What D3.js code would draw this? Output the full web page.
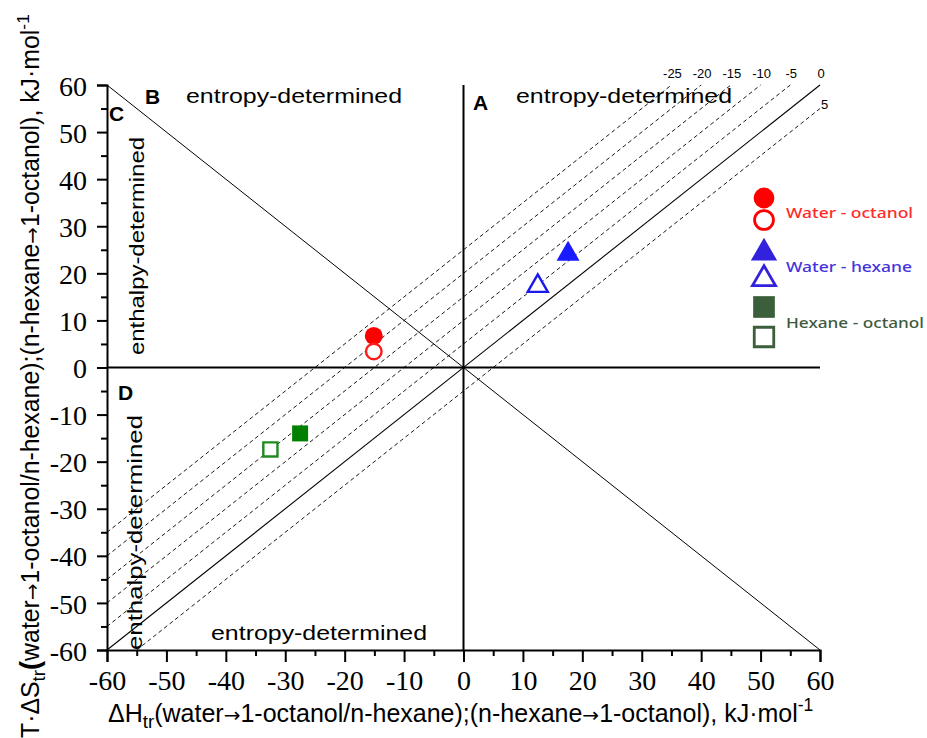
<!DOCTYPE html>
<html><head><meta charset="utf-8">
<script src="https://cdn.jsdelivr.net/npm/d3@7"></script>
<style>body{margin:0;background:#fff} svg{display:block}</style>
</head><body><svg id="c" width="927" height="738"></svg>
<script>
// ---- data ----
const seriesNames = ["Water - octanol", "Water - hexane", "Hexane - octanol"];
const filledDH  = [-15.1, 17.6, -27.5];
const filledTDS = [6.7, 24.1, -14.0];
const openDH    = [-15.1, 12.5, -32.5];
const openTDS   = [3.4, 17.3, -17.4];
const isoDG = [-25, -20, -15, -10, -5, 0, 5];
const majorTicks = [-60, -50, -40, -30, -20, -10, 0, 10, 20, 30, 40, 50, 60];
const minorTicks = [-55, -45, -35, -25, -15, -5, 5, 15, 25, 35, 45, 55];
const regionText = "entropy-determined";
const regionText2 = "enthalpy-determined";
const titleParts = ["(water", "→", "1-octanol/n-hexane);(n-hexane", "→", "1-octanol), kJ·mol"];

// ---- styles ----
const SERIF = '"Liberation Serif"';
const SANS = '"Liberation Sans"';
const plotFill = ["#ff0000", "#1a1aff", "#008000"];
const plotStroke = ["#ff1a1a", "#1a1aee", "#1f8a1f"];
const legFill = ["#ff0000", "#3322dd", "#3b5e3b"];
const legText = ["#ff2a2a", "#4433dd", "#3e5a3e"];
const shapes = [d3.symbolCircle, d3.symbolTriangle, d3.symbolSquare];

const svg = d3.select("#c");
const x = d3.scaleLinear().domain([-60, 60]).range([107, 820]);
const y = d3.scaleLinear().domain([-60, 60]).range([650, 85]);

// ---- guide lines ----
const g = svg.append("g");
g.append("line").attr("x1", x(-60)).attr("y1", y(60)).attr("x2", x(60)).attr("y2", y(-60))
  .attr("stroke", "#000").attr("stroke-width", 1);
isoDG.forEach(dg => {
  const c = -dg;
  const x0 = Math.max(-60, -60 - c), x1 = Math.min(60, 60 - c);
  g.append("line")
    .attr("x1", x(x0)).attr("y1", y(x0 + c)).attr("x2", x(x1)).attr("y2", y(x1 + c))
    .attr("stroke", "#000").attr("stroke-width", dg === 0 ? 1.1 : 0.9)
    .attr("stroke-dasharray", dg === 0 ? null : "4,3");
  const lx = x(x1), ly = y(x1 + c);
  const t = g.append("text").style("font-family", SANS).style("font-size", "13px").text(String(dg));
  if (dg <= 0) t.attr("x", lx + 1).attr("y", ly - 7).attr("text-anchor", "middle");
  else t.attr("x", lx + 1).attr("y", ly).attr("text-anchor", "start");
});
g.append("line").attr("x1", x(0)).attr("x2", x(0)).attr("y1", y(60)).attr("y2", y(-60))
  .attr("stroke", "#000").attr("stroke-width", 2);
g.append("line").attr("x1", x(-60)).attr("x2", x(60)).attr("y1", y(0)).attr("y2", y(0))
  .attr("stroke", "#000").attr("stroke-width", 2);

// ---- axes ----
const fmt = d => String(d);
const xa = svg.append("g").attr("transform", `translate(0,${y(-60)})`)
  .call(d3.axisBottom(x).tickValues(majorTicks).tickSize(12).tickPadding(10).tickFormat(fmt));
svg.append("g").attr("transform", `translate(0,${y(-60)})`)
  .call(d3.axisBottom(x).tickValues(minorTicks).tickSize(6).tickFormat(""))
  .select(".domain").remove();
const ya = svg.append("g").attr("transform", `translate(${x(-60)},0)`)
  .call(d3.axisLeft(y).tickValues(majorTicks).tickSize(10).tickPadding(10).tickFormat(fmt));
svg.append("g").attr("transform", `translate(${x(-60)},0)`)
  .call(d3.axisLeft(y).tickValues(minorTicks).tickSize(6).tickFormat(""))
  .select(".domain").remove();
svg.selectAll(".domain").attr("stroke-width", 2);
svg.selectAll(".tick line").attr("stroke-width", 2);
[xa, ya].forEach(a => {
  a.attr("font-family", null).attr("font-size", null);
  a.selectAll("text").attr("font-family", "Liberation Serif")
    .style("font-family", SERIF).style("font-size", "28px").attr("fill", "#000");
});
ya.selectAll("text").attr("dy", "0.36em");
xa.selectAll("text").attr("dy", "0.66em");

// ---- region labels ----
function rtext(txt, px, py, len, rot) {
  const t = svg.append("text").style("font-family", SANS).style("font-size", "21px")
    .attr("textLength", len).attr("lengthAdjust", "spacingAndGlyphs").text(txt);
  if (rot) t.attr("transform", `translate(${px},${py}) rotate(-90)`);
  else t.attr("x", px).attr("y", py);
  return t;
}
rtext(regionText, 186, 103, 216);
rtext(regionText, 516, 103, 216);
rtext(regionText, 211, 640, 216);
rtext(regionText2, 144, 355, 218, true);
rtext(regionText2, 142, 650, 235, true);
[["A", 473, 110], ["B", 145, 104], ["C", 109, 121], ["D", 118, 400]].forEach(([t, px, py]) =>
  svg.append("text").attr("x", px).attr("y", py).style("font-family", SANS)
    .style("font-weight", "bold").style("font-size", "21px").text(t));

// ---- data points ----
const pts = svg.append("g");
seriesNames.forEach((s, i) => {
  const fSize = [254, 230, 256][i];
  const oSize = [190, 175, 200][i];
  pts.append("path").attr("d", d3.symbol().type(shapes[i]).size(fSize)())
    .attr("transform", `translate(${x(filledDH[i])},${y(filledTDS[i])})`)
    .attr("fill", plotFill[i]);
  pts.append("path").attr("d", d3.symbol().type(shapes[i]).size(oSize)())
    .attr("transform", `translate(${x(openDH[i])},${y(openTDS[i])})`)
    .attr("fill", "#fff").attr("stroke", plotStroke[i]).attr("stroke-width", 2.4);
});

// ---- legend ----
const leg = svg.append("g");
const legRows = [[198, 220, 218], [253, 279, 272], [307, 337, 328]];
const legLen = [127, 126, 138];
seriesNames.forEach((s, i) => {
  const [yf, yo, yt] = legRows[i];
  leg.append("path").attr("d", d3.symbol().type(shapes[i]).size([340, 300, 470][i])())
    .attr("transform", `translate(764,${yf})`).attr("fill", legFill[i]);
  leg.append("path").attr("d", d3.symbol().type(shapes[i]).size([280, 230, 380][i])())
    .attr("transform", `translate(764,${yo})`).attr("fill", "#fff")
    .attr("stroke", legFill[i]).attr("stroke-width", 2.8);
  leg.append("text").attr("x", 786).attr("y", yt)
    .style("font-family", '"Noto Sans"').style("font-weight", "500")
    .style("font-size", "15px").attr("fill", legText[i])
    .attr("textLength", legLen[i]).attr("lengthAdjust", "spacingAndGlyphs").text(s);
});

// ---- axis titles ----
function fitWidth(t, target) {
  let fs = 20;
  for (let k = 0; k < 3; k++) {
    const w = t.node().getBBox().width;
    fs = fs * target / w;
    t.style("font-size", fs + "px");
  }
}
function addBody(t) {
  titleParts.forEach(p => {
    const s = t.append("tspan").text(p);
    if (p === "→") s.style("font-family", '"DejaVu Sans"').attr("font-size", "0.8em");
  });
  t.append("tspan").attr("baseline-shift", "60%").attr("font-size", "0.7em").text("-1");
}
const xt = svg.append("text").attr("x", 108).attr("y", 722).style("font-family", SANS).style("font-size", "20px");
xt.append("tspan").text("ΔH");
xt.append("tspan").attr("baseline-shift", "-30%").attr("font-size", "0.75em").text("tr");
addBody(xt);
fitWidth(xt, 705);

const yt = svg.append("text").attr("transform", "translate(39,738) rotate(-90)")
  .style("font-family", SANS).style("font-size", "20px");
yt.append("tspan").text("T·ΔS");
yt.append("tspan").attr("baseline-shift", "-30%").attr("font-size", "0.75em").text("tr");
yt.append("tspan").attr("font-weight", "bold").attr("font-size", "1.1em").text("");
addBody(yt);
yt.select("tspan:nth-child(3)").remove();
yt.selectAll("tspan").filter((d, i, n) => n[i].textContent === "(water")
  .text("water").each(function () {
    this.parentNode.insertBefore(
      Object.assign(document.createElementNS("http://www.w3.org/2000/svg", "tspan"), {}), this);
  });
yt.selectAll("tspan").filter(function () { return this.textContent === ""; })
  .attr("font-weight", "bold").attr("font-size", "1.1em").text("(");
fitWidth(yt, 724);
</script></body></html>
